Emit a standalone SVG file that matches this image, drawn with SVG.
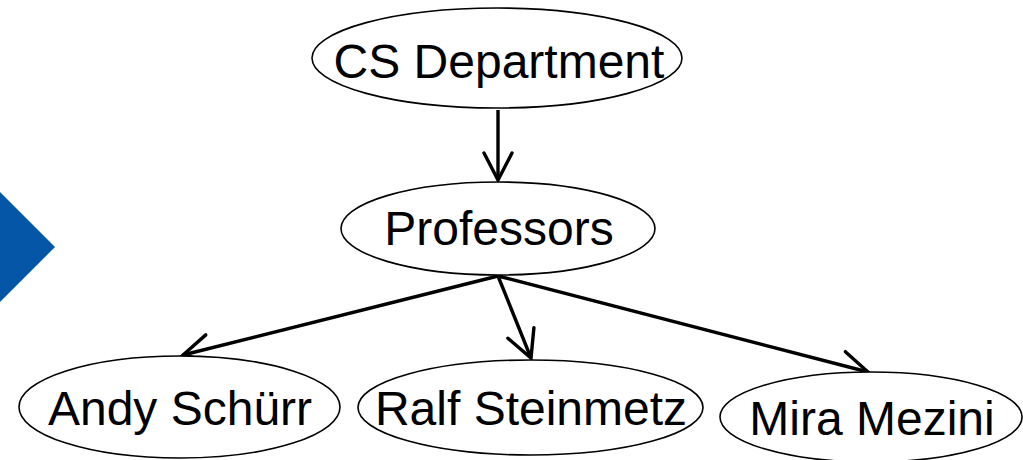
<svg xmlns="http://www.w3.org/2000/svg" width="1023" height="460" viewBox="0 0 1023 460">
  <style>
    .node ellipse { fill: #ffffff; stroke: #000000; stroke-width: 1.6; }
    .node text { font-family: "Liberation Sans", Arial, sans-serif; font-size: 48px; fill: #000000; text-anchor: middle; }
    .edge { fill: none; stroke: #000000; stroke-width: 3.4; marker-end: url(#open-arrow); }
  </style>
  <defs>
    <marker id="open-arrow" markerUnits="userSpaceOnUse" viewBox="-30 -16 32 32" refX="0" refY="0" markerWidth="32" markerHeight="32" orient="auto" overflow="visible">
      <path d="M-27,-14 L0,0 L-27,14" fill="none" stroke="#000000" stroke-width="3.4" stroke-linecap="round" stroke-linejoin="miter"/>
    </marker>
  </defs>

  <rect width="1023" height="460" fill="#ffffff"/>

  <!-- blue pointer on the left edge -->
  <polygon points="-10,192 0,192 55,247 0,302 -10,302" fill="#0556A6"/>

  <g id="connectors">
    <line class="edge" x1="498" y1="110" x2="498" y2="180"/>
    <line class="edge" x1="498" y1="276" x2="183" y2="355"/>
    <line class="edge" x1="498" y1="276" x2="531" y2="358"/>
    <line class="edge" x1="498" y1="276" x2="868" y2="372"/>
  </g>

  <g id="node-cs-department" class="node">
    <ellipse cx="497" cy="58" rx="185" ry="50"/>
    <text x="499" y="78">CS Department</text>
  </g>

  <g id="node-professors" class="node">
    <ellipse cx="498" cy="228.5" rx="157" ry="46.5"/>
    <text x="499" y="245">Professors</text>
  </g>

  <g id="node-andy-schuerr" class="node">
    <ellipse cx="179.5" cy="407" rx="160.5" ry="51"/>
    <text x="180" y="425">Andy Schürr</text>
  </g>

  <g id="node-ralf-steinmetz" class="node">
    <ellipse cx="530.5" cy="407.5" rx="172.5" ry="47.5"/>
    <text x="531" y="425">Ralf Steinmetz</text>
  </g>

  <g id="node-mira-mezini" class="node">
    <ellipse cx="871" cy="417" rx="151" ry="45"/>
    <text x="872" y="435">Mira Mezini</text>
  </g>
</svg>
